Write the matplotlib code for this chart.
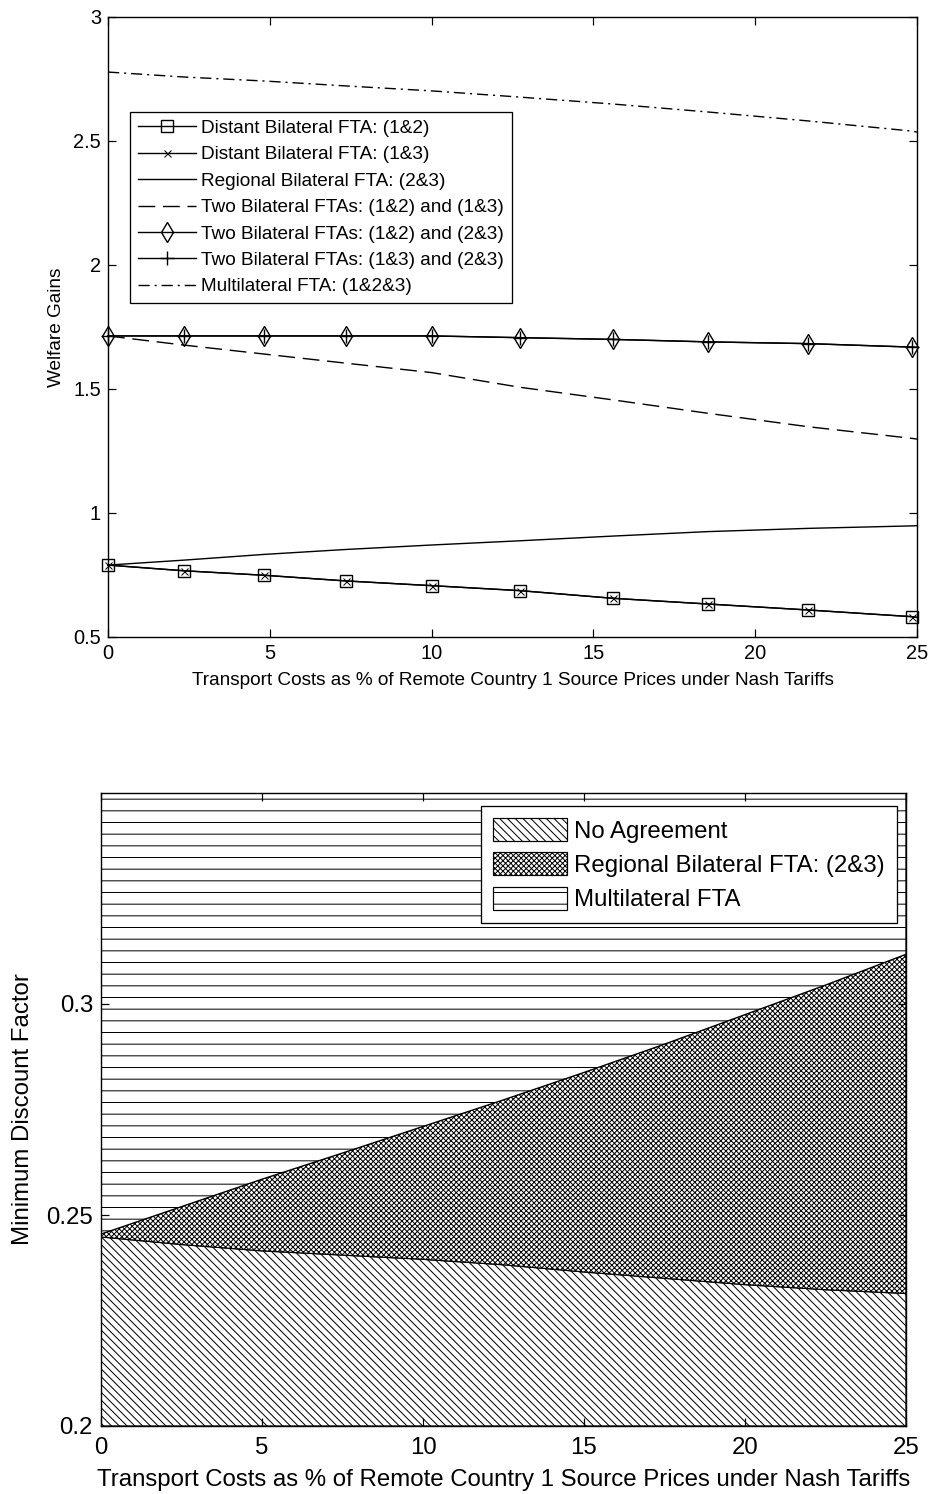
import matplotlib
matplotlib.use("Agg")
import matplotlib.pyplot as plt

# dpi chosen so that hatch spacing (one hatch unit = dpi pixels) looks like the reference
DPI = 140


def px(v):
    # pixels -> points
    return v * 72.0 / DPI


plt.rcParams['font.family'] = ['Liberation Sans', 'DejaVu Sans']
plt.rcParams['hatch.linewidth'] = px(1.0)
plt.rcParams['hatch.color'] = 'black'

# ---- data: top panel (welfare gains) ----
tc_top = [0, 2.35, 4.82, 7.36, 10.01, 12.73, 15.61, 18.54, 21.63, 24.84, 25.0]
distant_12 = [0.790, 0.767, 0.749, 0.726, 0.707, 0.687, 0.656, 0.633, 0.609, 0.582, 0.579]
distant_13 = [0.790, 0.767, 0.749, 0.726, 0.707, 0.687, 0.656, 0.633, 0.609, 0.582, 0.579]
regional_23 = [0.790, 0.810, 0.833, 0.853, 0.871, 0.888, 0.907, 0.925, 0.938, 0.948, 0.949]
two_12_13 = [1.714, 1.677, 1.641, 1.604, 1.566, 1.507, 1.456, 1.402, 1.348, 1.301, 1.298]
two_12_23 = [1.714, 1.714, 1.714, 1.714, 1.714, 1.707, 1.700, 1.690, 1.683, 1.669, 1.668]
two_13_23 = [1.714, 1.714, 1.714, 1.714, 1.714, 1.707, 1.700, 1.690, 1.683, 1.669, 1.668]
multilateral = [2.778, 2.758, 2.742, 2.722, 2.702, 2.677, 2.649, 2.617, 2.581, 2.540, 2.536]

top_labels = ['Distant Bilateral FTA: (1&2)', 'Distant Bilateral FTA: (1&3)',
              'Regional Bilateral FTA: (2&3)', 'Two Bilateral FTAs: (1&2) and (1&3)',
              'Two Bilateral FTAs: (1&2) and (2&3)', 'Two Bilateral FTAs: (1&3) and (2&3)',
              'Multilateral FTA: (1&2&3)']

# ---- data: bottom panel (minimum discount factor) ----
tc_bot = [0, 2.5, 5, 7.5, 10, 12.5, 15, 17.5, 20, 22.5, 25]
lower_bound = [0.2448, 0.2430, 0.2415, 0.2405, 0.2395, 0.2382, 0.2365, 0.2350, 0.2335, 0.2323, 0.2314]
upper_bound = [0.2455, 0.2520, 0.2585, 0.2647, 0.2710, 0.2773, 0.2838, 0.2905, 0.2975, 0.3045, 0.3118]
bot_labels = ['No Agreement', 'Regional Bilateral FTA: (2&3)', 'Multilateral FTA']

xlab = 'Transport Costs as % of Remote Country 1 Source Prices under Nash Tariffs'

fig = plt.figure(figsize=(929 / DPI, 1494 / DPI), dpi=DPI)

# ================= top panel =================
ax1 = fig.add_axes([108 / 929, 1 - 637 / 1494, 809 / 929, 620 / 1494])
fs1 = px(19)
lw = px(1.4)
mk = list(range(10))

ax1.plot(tc_top, distant_12, '-', color='k', lw=lw, marker='s', ms=px(12),
         mfc='none', mew=lw, markevery=mk, clip_on=False, label=top_labels[0])
ax1.plot(tc_top, distant_13, '-', color='k', lw=lw, marker='x', ms=px(7),
         mew=px(1.0), markevery=mk, clip_on=False, label=top_labels[1])
ax1.plot(tc_top, regional_23, '-', color='k', lw=lw, label=top_labels[2])
ax1.plot(tc_top, two_12_13, color='k', lw=lw, dashes=(12, 5.5), label=top_labels[3])
ax1.plot(tc_top, two_12_23, '-', color='k', lw=lw, marker='d', ms=px(14),
         mfc='none', mew=lw, markevery=mk, clip_on=False, label=top_labels[4])
ax1.plot(tc_top, two_13_23, '-', color='k', lw=lw, marker='+', ms=px(14),
         mew=lw, markevery=mk, clip_on=False, label=top_labels[5])
ax1.plot(tc_top, multilateral, color='k', lw=lw, dashes=(8, 3.5, 1.5, 3.5), label=top_labels[6])

ax1.set_xlim(0, 25)
ax1.set_ylim(0.5, 3)
ax1.set_xticks([0, 5, 10, 15, 20, 25])
ax1.set_xticklabels(['0', '5', '10', '15', '20', '25'])
ax1.set_yticks([0.5, 1, 1.5, 2, 2.5, 3])
ax1.set_yticklabels(['0.5', '1', '1.5', '2', '2.5', '3'])
ax1.tick_params(direction='in', top=True, right=True, length=px(8), width=px(1.2),
                labelsize=px(20), pad=px(7))
for s in ax1.spines.values():
    s.set_linewidth(px(1.4))
ax1.set_xlabel(xlab, fontsize=fs1, labelpad=px(9))
ax1.set_ylabel('Welfare Gains', fontsize=fs1, labelpad=px(8))

leg1 = ax1.legend(loc='upper left', bbox_to_anchor=(22 / 809, 525 / 620), borderaxespad=0,
                  fontsize=fs1, frameon=True, fancybox=False, framealpha=1, edgecolor='k',
                  handlelength=3.05, handletextpad=0.3, labelspacing=0.48,
                  borderpad=0.4, numpoints=1)
leg1.get_frame().set_linewidth(px(1.3))

# ================= bottom panel =================
ax2 = fig.add_axes([101 / 929, 1 - 1426 / 1494, 805 / 929, 633 / 1494])
fs2 = px(24)
ymin, ymax = 0.2, 0.35

ax2.fill_between(tc_bot, ymin, lower_bound, facecolor='white', edgecolor='k',
                 hatch='\\' * 6, lw=px(1.2), label=bot_labels[0])
ax2.fill_between(tc_bot, lower_bound, upper_bound, facecolor='white', edgecolor='k',
                 hatch='x' * 9, lw=px(1.2), label=bot_labels[1])
ax2.fill_between(tc_bot, upper_bound, ymax, facecolor='white', edgecolor='k',
                 hatch='--', lw=px(1.2), label=bot_labels[2])

ax2.set_xlim(0, 25)
ax2.set_ylim(ymin, ymax)
ax2.set_xticks([0, 5, 10, 15, 20, 25])
ax2.set_xticklabels(['0', '5', '10', '15', '20', '25'])
ax2.set_yticks([0.2, 0.25, 0.3])
ax2.set_yticklabels(['0.2', '0.25', '0.3'])
ax2.tick_params(axis='x', pad=px(11))
ax2.tick_params(axis='y', pad=px(8))
ax2.tick_params(direction='in', top=True, right=True, length=px(8), width=px(1.2),
                labelsize=fs2)
for s in ax2.spines.values():
    s.set_linewidth(px(1.4))
ax2.set_xlabel(xlab, fontsize=fs2, labelpad=px(10))
ax2.set_ylabel('Minimum Discount Factor', fontsize=fs2, labelpad=px(12))

leg2 = ax2.legend(loc='upper right', bbox_to_anchor=(796 / 805, 620 / 633), borderaxespad=0,
                  fontsize=fs2, frameon=True, fancybox=False, framealpha=1, edgecolor='k',
                  handlelength=3.1, handleheight=1.1, handletextpad=0.3, labelspacing=0.4,
                  borderpad=0.5)
leg2.get_frame().set_linewidth(px(1.3))

fig.savefig('out.png', dpi=DPI)
